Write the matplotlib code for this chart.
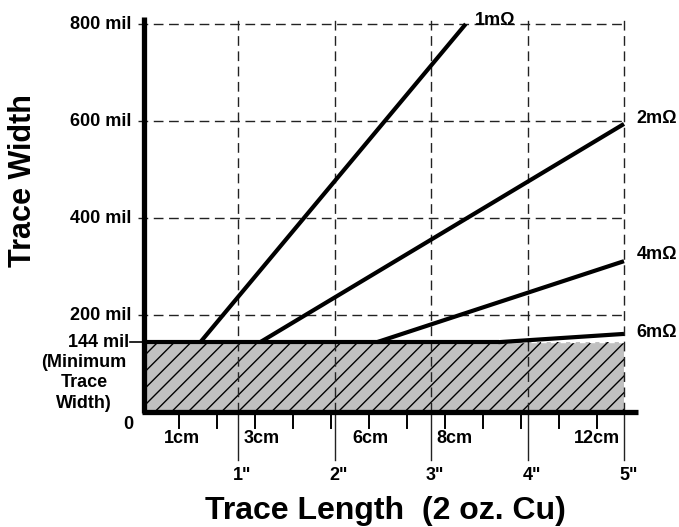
import matplotlib
matplotlib.use("Agg")
import matplotlib.pyplot as plt
from matplotlib.patches import Rectangle
import numpy as np

plt.rcParams['font.family'] = ['Liberation Sans', 'DejaVu Sans']
plt.rcParams['font.weight'] = 'bold'
plt.rcParams['hatch.color'] = 'black'
plt.rcParams['hatch.linewidth'] = 1.0

# ---- data ----
series_labels = ['1m\u03a9', '2m\u03a9', '4m\u03a9', '6m\u03a9']
start_len_in = [0.61, 1.23, 2.44, 3.70]
start_width_mil = [144, 144, 144, 144]
end_len_in = [3.36, 5.0, 5.0, 5.0]
end_width_mil = [800, 594, 311, 161]

min_width_mil = 144
max_len_in = 5.0
inch_ticks = [1, 2, 3, 4, 5]
inch_labels = ['1"', '2"', '3"', '4"', '5"']
cm_ticks = list(range(1, 13))
cm_labeled = [1, 3, 6, 8, 12]
cm_labels = ['1cm', '3cm', '6cm', '8cm', '12cm']
y_grid = [200, 400, 600, 800]
y_labels = ['200 mil', '400 mil', '600 mil', '800 mil']

# ---- figure ----
W, H = 679, 527
fig = plt.figure(figsize=(W / 100, H / 100), dpi=100)
# pixel calibration: x=0 at 141.5px, 96.5 px/inch; y=0 at 412px (from top), 0.485 px/mil
x0px, xs = 141.5, 96.5
y0px, ys = 412.0, 0.485
xlim = (-0.3, 5.4)
ylim = (-130, 830)
left = (x0px + xlim[0] * xs) / W
width = (xlim[1] - xlim[0]) * xs / W
bottom = (H - (y0px - ylim[0] * ys)) / H
height = (ylim[1] - ylim[0]) * ys / H
ax = fig.add_axes([left, bottom, width, height])
ax.set_xlim(*xlim)
ax.set_ylim(*ylim)
ax.axis('off')

dash = (7, 4)
grid_kw = dict(color='#222222', lw=1.0, clip_on=False)

# hatched minimum-width region
rect = Rectangle((0, 0), max_len_in, min_width_mil, facecolor='#c0c0c0',
                 edgecolor='black', hatch='//', linewidth=0, zorder=1)
ax.add_patch(rect)
ax.plot([0, max_len_in], [min_width_mil, min_width_mil], color='white',
        lw=1.0, dashes=(4, 3), zorder=2)

# horizontal dashed gridlines
for yv in y_grid:
    ax.plot([-0.04, max_len_in + 0.02], [yv, yv], dashes=dash, zorder=2, **grid_kw)

# vertical gridlines: dashed above axis, solid below
top_mil = 815
bot_mil = -99
for xv in inch_ticks:
    ax.plot([xv, xv], [0, top_mil], dashes=dash, zorder=2, **grid_kw)
    ax.plot([xv, xv], [0, bot_mil], zorder=2, **grid_kw)

# cm ticks
for c in cm_ticks:
    xv = c / 2.54
    ax.plot([xv, xv], [0, -34], color='black', lw=1.4, clip_on=False, zorder=3)

# minimum width line
ax.plot([0, start_len_in[3]], [min_width_mil, min_width_mil], color='black',
        lw=3.0, solid_capstyle='butt', zorder=4)
ax.plot([-0.12, 0], [min_width_mil, min_width_mil], color='black', lw=1.2,
        clip_on=False, zorder=4)

# resistance lines
for x0, y0_, x1, y1 in zip(start_len_in, start_width_mil, end_len_in, end_width_mil):
    ax.plot([x0, x1], [y0_, y1], color='black', lw=3.0, solid_capstyle='butt',
            zorder=5, clip_on=False)

# axes spines
ax.plot([0.03, 0.03], [-3, top_mil], color='black', lw=3.8,
        solid_capstyle='butt', clip_on=False, zorder=6)
ax.plot([0.0, 5.15], [0, 0], color='black', lw=3.8,
        solid_capstyle='butt', clip_on=False, zorder=6)

# ---- text ----
fs = 13
for yv, lab in zip(y_grid, y_labels):
    ax.text(-0.105, yv, lab, ha='right', va='center', fontsize=fs, fontweight='bold')
ax.text(-0.125, min_width_mil, '144 mil', ha='right', va='center', fontsize=fs,
        fontweight='bold')
min_text = ['(Minimum', 'Trace', 'Width)']
min_text_y = [103, 60, 18]
for t, yv in zip(min_text, min_text_y):
    ax.text(-0.596, yv, t, ha='center', va='center', fontsize=fs, fontweight='bold')
ax.text(-0.14, -25, '0', ha='center', va='center', fontsize=fs, fontweight='bold')

cm_label_offset_in = [0.03, 0.06, 0.01, 0.09, 0.0]
for c, lab, off in zip(cm_labeled, cm_labels, cm_label_offset_in):
    ax.text(c / 2.54 + off, -55, lab, ha='center', va='center', fontsize=fs,
            fontweight='bold')
for xv, lab in zip(inch_ticks, inch_labels):
    ax.text(xv + 0.045, -131, lab, ha='center', va='center', fontsize=fs,
            fontweight='bold')

series_label_x = [3.456, 5.13, 5.13, 5.13]
series_label_y = [808, 606, 324, 163]
for lab, xv, yv in zip(series_labels, series_label_x, series_label_y):
    ax.text(xv, yv, lab, ha='left', va='center', fontsize=fs, fontweight='bold')

ax.text(-1.233, 478, 'Trace Width', rotation=90, ha='center', va='center',
        fontsize=22, fontweight='bold')
ax.text(2.523, -220, 'Trace Length  (2 oz. Cu)', ha='center', va='baseline',
        fontsize=23, fontweight='bold')

fig.savefig('out.png', dpi=100)
